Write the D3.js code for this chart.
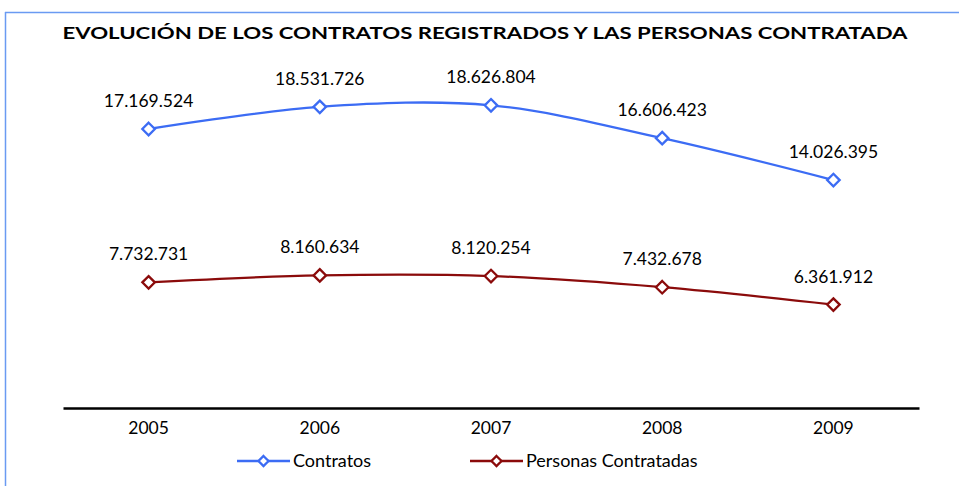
<!DOCTYPE html>
<html>
<head>
<meta charset="utf-8">
<script src="https://cdn.jsdelivr.net/npm/d3@7"></script>
<style>
  body { margin: 0; background: #fff; }
  text { font-family: Lato, "DejaVu Sans", sans-serif; fill: #000; }
</style>
</head>
<body>
<svg id="chart" width="959" height="486"></svg>
<script>
// data
const years = ["2005", "2006", "2007", "2008", "2009"];
const contratos = [17169524, 18531726, 18626804, 16606423, 14026395];
const personas = [7732731, 8160634, 8120254, 7432678, 6361912];
const seriesNames = ["Contratos", "Personas Contratadas"];
const title = "EVOLUCIÓN DE LOS CONTRATOS REGISTRADOS Y LAS PERSONAS CONTRATADA";

const colors = ["#3c6cf4", "#8b0b0b"];

let svg = d3.select("#chart");

// frame (top + left edge only, like the source)
svg.append("line").attr("x1", 5).attr("x2", 959).attr("y1", 12.5).attr("y2", 12.5)
    .attr("stroke", "#6a9af2").attr("stroke-width", 1.5);
svg.append("line").attr("x1", 5.5).attr("x2", 5.5).attr("y1", 12).attr("y2", 486)
    .attr("stroke", "#6a9af2").attr("stroke-width", 1.5);

svg.append("text")
    .attr("x", 485).attr("y", 39)
    .attr("text-anchor", "middle")
    .attr("font-weight", "bold")
    .attr("font-size", 17.5)
    .attr("textLength", 845)
    .attr("lengthAdjust", "spacingAndGlyphs")
    .text(title);

let x = d3.scaleBand()
    .domain(years)
    .range([63, 919]);

let y = d3.scaleLinear()
    .domain([0, 20000000])
    .range([408, 83]);

// x axis
let xAxis = svg.append("g")
    .attr("transform", "translate(0,408)")
    .call(d3.axisBottom(x).tickSize(0).tickPadding(14));
xAxis.select(".domain").attr("stroke", "#000").attr("stroke-width", 2.5);
xAxis.selectAll("text")
    .attr("font-size", 17.5)
    .attr("font-family", "Lato, 'DejaVu Sans', sans-serif")
    .attr("fill", "#000");

let fmt = v => d3.format(",")(v).replace(/,/g, ".");

let line = d3.line()
    .x((d, i) => x(years[i]) + x.bandwidth() / 2)
    .y(d => y(d))
    .curve(d3.curveCatmullRom.alpha(0.5));

let diamond = d3.symbol().type(d3.symbolDiamond2).size(100);

[contratos, personas].forEach((vals, s) => {
    let g = svg.append("g");
    g.append("path")
        .datum(vals)
        .attr("d", line)
        .attr("fill", "none")
        .attr("stroke", colors[s])
        .attr("stroke-width", 2.3);

    g.selectAll("path.mark")
        .data(vals)
        .join("path")
        .attr("class", "mark")
        .attr("d", diamond)
        .attr("transform", (d, i) => `translate(${x(years[i]) + x.bandwidth() / 2},${y(d)})`)
        .attr("fill", "#fff")
        .attr("stroke", colors[s])
        .attr("stroke-width", 2.3);

    g.selectAll("text")
        .data(vals)
        .join("text")
        .attr("x", (d, i) => x(years[i]) + x.bandwidth() / 2)
        .attr("y", d => y(d) - 22)
        .attr("text-anchor", "middle")
        .attr("font-size", 17.5)
        .text(d => fmt(d));
});

// legend
let legendX = [237, 470];
seriesNames.forEach((name, s) => {
    let lg = svg.append("g").attr("transform", `translate(${legendX[s]},461)`);
    lg.append("line").attr("x1", 0).attr("x2", 53)
        .attr("stroke", colors[s]).attr("stroke-width", 2.3);
    lg.append("path").attr("d", d3.symbol().type(d3.symbolDiamond2).size(64))
        .attr("transform", "translate(26.5,0)")
        .attr("fill", "#fff").attr("stroke", colors[s]).attr("stroke-width", 2.3);
    lg.append("text").attr("x", 56).attr("y", 6)
        .attr("font-size", 18)
        .text(name);
});
</script>
</body>
</html>
